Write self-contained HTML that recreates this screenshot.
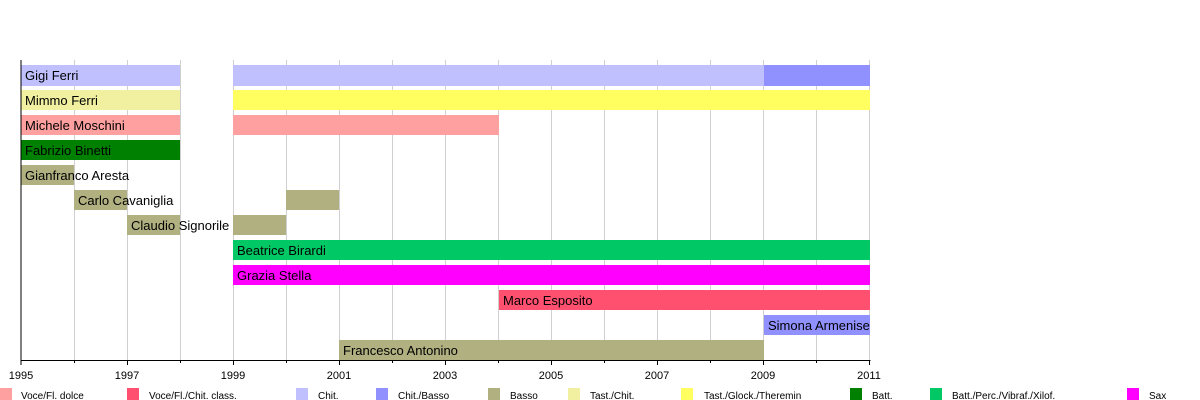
<!DOCTYPE html>
<html><head><meta charset="utf-8"><style>body{margin:0;background:#fff}svg{display:block}text{font-family:"Liberation Sans",sans-serif}</style></head><body>
<svg width="1200" height="400" xmlns="http://www.w3.org/2000/svg">
<g stroke="#d0d0d0" stroke-width="1">
<line x1="74.5" y1="60" x2="74.5" y2="360"/><line x1="127.5" y1="60" x2="127.5" y2="360"/><line x1="180.5" y1="60" x2="180.5" y2="360"/><line x1="233.5" y1="60" x2="233.5" y2="360"/><line x1="286.5" y1="60" x2="286.5" y2="360"/><line x1="339.5" y1="60" x2="339.5" y2="360"/><line x1="392.5" y1="60" x2="392.5" y2="360"/><line x1="445.5" y1="60" x2="445.5" y2="360"/><line x1="498.5" y1="60" x2="498.5" y2="360"/><line x1="551.5" y1="60" x2="551.5" y2="360"/><line x1="604.5" y1="60" x2="604.5" y2="360"/><line x1="657.5" y1="60" x2="657.5" y2="360"/><line x1="710.5" y1="60" x2="710.5" y2="360"/><line x1="763.5" y1="60" x2="763.5" y2="360"/><line x1="816.5" y1="60" x2="816.5" y2="360"/><line x1="869.5" y1="60" x2="869.5" y2="360"/>
</g>
<g>
<rect x="21" y="65" width="159" height="21" fill="#c0c0ff"/><rect x="233" y="65" width="531" height="21" fill="#c0c0ff"/><rect x="764" y="65" width="106" height="21" fill="#9090ff"/>
<rect x="21" y="90" width="159" height="20" fill="#f0f0a0"/><rect x="233" y="90" width="637" height="20" fill="#ffff60"/>
<rect x="21" y="115" width="159" height="20" fill="#ffa0a0"/><rect x="233" y="115" width="266" height="20" fill="#ffa0a0"/>
<rect x="21" y="140" width="159" height="20" fill="#008000"/>
<rect x="21" y="165" width="53" height="20" fill="#b0b080"/>
<rect x="74" y="190" width="53" height="20" fill="#b0b080"/><rect x="286" y="190" width="53" height="20" fill="#b0b080"/>
<rect x="127" y="215" width="53" height="20" fill="#b0b080"/><rect x="233" y="215" width="53" height="20" fill="#b0b080"/>
<rect x="233" y="240" width="637" height="20" fill="#00c864"/>
<rect x="233" y="265" width="637" height="20" fill="#ff00ff"/>
<rect x="499" y="290" width="371" height="20" fill="#ff5070"/>
<rect x="764" y="315" width="106" height="20" fill="#9090ff"/>
<rect x="339" y="340" width="425" height="20" fill="#b0b080"/>
</g>
<g font-size="13" fill="#000">
<text x="25" y="80">Gigi Ferri</text><text x="25" y="105">Mimmo Ferri</text><text x="25" y="130">Michele Moschini</text><text x="25" y="155">Fabrizio Binetti</text><text x="25" y="180">Gianfranco Aresta</text><text x="78" y="205">Carlo Cavaniglia</text><text x="131" y="230">Claudio Signorile</text><text x="237" y="255">Beatrice Birardi</text><text x="237" y="280">Grazia Stella</text><text x="503" y="305">Marco Esposito</text><text x="768" y="330">Simona Armenise</text><text x="343" y="355">Francesco Antonino</text>
</g>
<line x1="21" y1="60" x2="21" y2="361" stroke="#000"/>
<line x1="20.5" y1="360.5" x2="870.5" y2="360.5" stroke="#000"/>
<g stroke="#000"><line x1="21" y1="360" x2="21" y2="365"/><line x1="74.5" y1="360" x2="74.5" y2="363"/><line x1="127.5" y1="360" x2="127.5" y2="365"/><line x1="180.5" y1="360" x2="180.5" y2="363"/><line x1="233.5" y1="360" x2="233.5" y2="365"/><line x1="286.5" y1="360" x2="286.5" y2="363"/><line x1="339.5" y1="360" x2="339.5" y2="365"/><line x1="392.5" y1="360" x2="392.5" y2="363"/><line x1="445.5" y1="360" x2="445.5" y2="365"/><line x1="498.5" y1="360" x2="498.5" y2="363"/><line x1="551.5" y1="360" x2="551.5" y2="365"/><line x1="604.5" y1="360" x2="604.5" y2="363"/><line x1="657.5" y1="360" x2="657.5" y2="365"/><line x1="710.5" y1="360" x2="710.5" y2="363"/><line x1="763.5" y1="360" x2="763.5" y2="365"/><line x1="816.5" y1="360" x2="816.5" y2="363"/><line x1="869.5" y1="360" x2="869.5" y2="365"/></g>
<g font-size="11" text-anchor="middle"><text x="21" y="379">1995</text><text x="127" y="379">1997</text><text x="233" y="379">1999</text><text x="339" y="379">2001</text><text x="445" y="379">2003</text><text x="551" y="379">2005</text><text x="657" y="379">2007</text><text x="763" y="379">2009</text><text x="869" y="379">2011</text></g>
<g font-size="10">
<rect x="0" y="388" width="12" height="12" fill="#ffa0a0"/><text x="21" y="399">Voce/Fl. dolce</text>
<rect x="127" y="388" width="12" height="12" fill="#ff5070"/><text x="149" y="399">Voce/Fl./Chit. class.</text>
<rect x="296" y="388" width="12" height="12" fill="#c0c0ff"/><text x="318" y="399">Chit.</text>
<rect x="376" y="388" width="12" height="12" fill="#9090ff"/><text x="398" y="399">Chit./Basso</text>
<rect x="488" y="388" width="12" height="12" fill="#b0b080"/><text x="510" y="399">Basso</text>
<rect x="568" y="388" width="12" height="12" fill="#f0f0a0"/><text x="590" y="399">Tast./Chit.</text>
<rect x="681" y="388" width="12" height="12" fill="#ffff60"/><text x="704" y="399">Tast./Glock./Theremin</text>
<rect x="850" y="388" width="12" height="12" fill="#008000"/><text x="872" y="399">Batt.</text>
<rect x="930" y="388" width="12" height="12" fill="#00c864"/><text x="952" y="399">Batt./Perc./Vibraf./Xilof.</text>
<rect x="1127" y="388" width="12" height="12" fill="#ff00ff"/><text x="1149" y="399">Sax</text>
</g>
</svg>
</body></html>
